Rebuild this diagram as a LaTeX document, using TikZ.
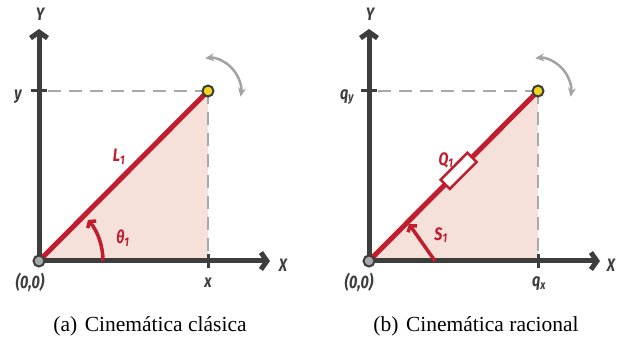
\documentclass[tikz,border=0pt]{standalone}
\usepackage{fontspec}
\setmainfont{Liberation Serif}
\newfontfamily\labelfont[FakeStretch=0.8]{Fira Sans}
\usetikzlibrary{arrows.meta}

\definecolor{axisgray}{HTML}{3D3D3D}
\definecolor{linkred}{HTML}{C01D2E}
\definecolor{areapink}{HTML}{F6E1DA}
\definecolor{guidegray}{HTML}{A9A9A9}
\definecolor{swinggray}{HTML}{A3A3A3}
\definecolor{basegray}{HTML}{A8A8A8}
\definecolor{jointyellow}{HTML}{F4D31C}

\begin{document}
\begin{tikzpicture}[x=1pt, y=1pt,
  axis/.style={draw=axisgray, line width=5pt, -{Straight Barb[length=6pt,width=17pt]}},
  axistick/.style={draw=axisgray, line width=3pt},
  guide/.style={draw=guidegray, line width=2.6pt, dash pattern=on 13pt off 8pt},
  link/.style={draw=linkred, line width=5pt},
  turn/.style={draw=linkred, line width=3.5pt, -{Straight Barb[length=4pt,width=11pt]}},
  swing/.style={draw=swinggray, line width=2.5pt, {Stealth[length=9pt,width=8pt]}-{Stealth[length=9pt,width=8pt]}},
  joint/.style={circle, draw=axisgray, line width=2pt, inner sep=0pt, minimum size=11pt},
  lbl/.style={font=\labelfont\bfseries\itshape\fontsize{18}{20}\selectfont, text=axisgray, inner sep=1pt},
  redlbl/.style={lbl, text=linkred},
  caption/.style={font=\fontsize{21.5}{24}\selectfont, inner sep=0pt}]
\useasboundingbox (0,0) rectangle (618,345);

% (a) classical
\coordinate (aO) at (39,84);
\coordinate (aP) at (208,254);
\coordinate (aX) at (270,84);
\coordinate (aY) at (39,316);
\coordinate (aPx) at (208,84);
\coordinate (aPy) at (39,254);

\fill[areapink] (aO) -- (aPx) -- (aP) -- cycle;
\draw[guide] (aP) -- (aPy);
\draw[guide] (aP) -- (aPx);
\draw[axistick] (31,254) -- (47,254);
\draw[axistick] (208,77) -- (208,91);
\draw[axis] (aO) -- (aX);
\draw[axis] (aO) -- (aY);
\draw[link] (aO) -- (aP);
\draw[turn] ([shift={(0:64)}]aO) arc (0:40:64);
\draw[swing] ([shift={(95:33)}]aP) arc (95:-10:33);
\node[joint, fill=basegray] (aOdot) at (aO) {};
\node[joint, fill=jointyellow] (aPdot) at (aP) {};

\node[lbl] (aYlbl) at (40,331) {Y};
\node[lbl] (aXlbl) at (283,80) {X};
\node[lbl] (aylbl) at (18,248) {y};
\node[lbl] (axlbl) at (208,62) {x};
\node[lbl] (aOlbl) at (30,63) {(0,0)};
\node[redlbl] (aLlbl) at (119,188) {L\textsubscript{1}};
\node[redlbl] (athlbl) at (123,107) {θ\textsubscript{1}};
\node[caption] (acap) at (150,19) {(a)\hspace{0.35em}Cinemática clásica};

% (b) rational
\coordinate (bO) at (369,84);
\coordinate (bP) at (538,254);
\coordinate (bX) at (600,84);
\coordinate (bY) at (369,316);
\coordinate (bPx) at (538,84);
\coordinate (bPy) at (369,254);
\coordinate (bS) at (435,84);
\coordinate (bT) at (409,121);

\fill[areapink] (bO) -- (bPx) -- (bP) -- cycle;
\draw[guide] (bP) -- (bPy);
\draw[guide] (bP) -- (bPx);
\draw[axistick] (361,254) -- (377,254);
\draw[axistick] (538,77) -- (538,91);
\draw[axis] (bO) -- (bX);
\draw[axis] (bO) -- (bY);
\draw[link] (bO) -- (bP) node[pos=0.53, sloped, draw=linkred, fill=white, line width=2.5pt,
  minimum width=38pt, minimum height=13pt, inner sep=0pt] (bQ) {};
\draw[turn] (bS) -- (bT);
\draw[swing] ([shift={(95:33)}]bP) arc (95:-10:33);
\node[joint, fill=basegray] (bOdot) at (bO) {};
\node[joint, fill=jointyellow] (bPdot) at (bP) {};

\node[lbl] (bYlbl) at (370,331) {Y};
\node[lbl] (bXlbl) at (611,80) {X};
\node[lbl] (bqylbl) at (347,248) {q\textsubscript{y}};
\node[lbl] (bqxlbl) at (539,61) {q\textsubscript{x}};
\node[lbl] (bOlbl) at (359,63) {(0,0)};
\node[redlbl] (bQlbl) at (446,185) {Q\textsubscript{1}};
\node[redlbl] (bSlbl) at (441,110) {S\textsubscript{1}};
\node[caption] (bcap) at (476,19) {(b)\hspace{0.35em}Cinemática racional};
\end{tikzpicture}
\end{document}
